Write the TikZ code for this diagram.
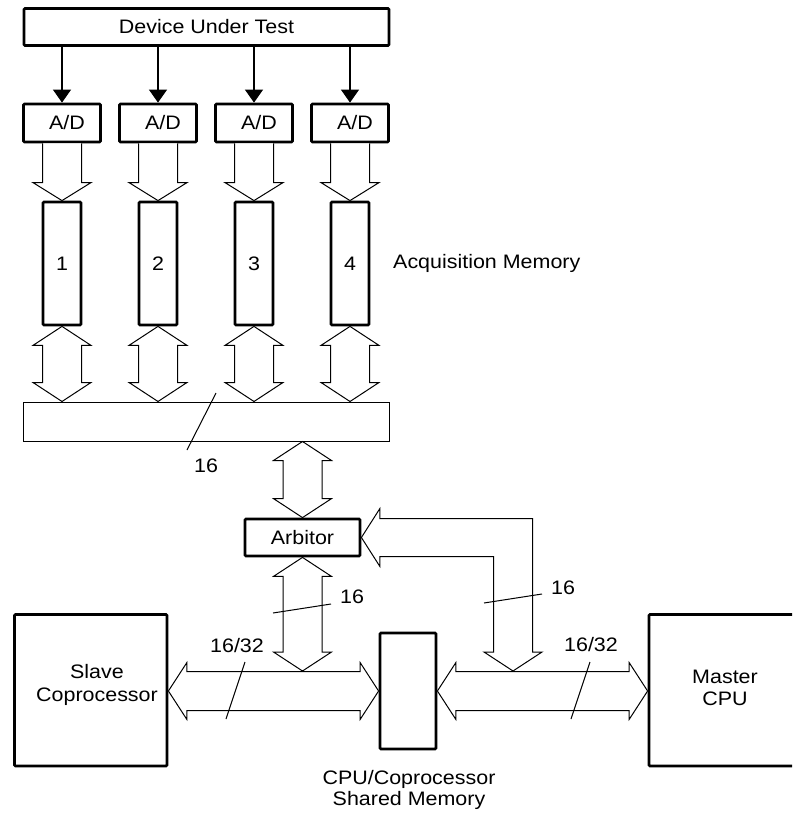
\documentclass[tikz,border=0pt]{standalone}
\usepackage{fontspec}
\setmainfont{Liberation Sans}[FakeStretch=1.1]
\usetikzlibrary{arrows.meta,calc}
\newcommand\vdbus[2]{%
  \draw[busline] let \p1=(#1), \p2=(#2) in
    (\x1,\y1) -- (\x1+29pt,\y1-19pt) -- (\x1+19.5pt,\y1-19pt) -- (\x1+19.5pt,\y2+19pt)
    -- (\x1+29pt,\y2+19pt) -- (\x1,\y2) -- (\x1-29pt,\y2+19pt) -- (\x1-19.5pt,\y2+19pt)
    -- (\x1-19.5pt,\y1-19pt) -- (\x1-29pt,\y1-19pt) -- cycle;}
\newcommand\vsbus[2]{%
  \draw[busline] let \p1=(#1), \p2=(#2) in
    (\x1-19.5pt,\y1) -- (\x1-19.5pt,\y2+18pt) -- (\x1-29pt,\y2+18pt) -- (\x1,\y2)
    -- (\x1+29pt,\y2+18pt) -- (\x1+19.5pt,\y2+18pt) -- (\x1+19.5pt,\y1);}
\newcommand\hdbus[2]{%
  \draw[busline] let \p1=(#1), \p2=(#2) in
    (\x1,\y1) -- (\x1+18.5pt,\y1+28.5pt) -- (\x1+18.5pt,\y1+19.5pt) -- (\x2-18.5pt,\y1+19.5pt)
    -- (\x2-18.5pt,\y1+28.5pt) -- (\x2,\y1) -- (\x2-18.5pt,\y1-28.5pt) -- (\x2-18.5pt,\y1-19.5pt)
    -- (\x1+18.5pt,\y1-19.5pt) -- (\x1+18.5pt,\y1-28.5pt) -- cycle;}
\tikzset{
  thickbox/.style={draw=black, line width=2.8pt, fill=white, inner sep=0pt, rounded corners=1pt},
  thinbox/.style={draw=black, line width=1pt, fill=white, inner sep=0pt},
  busline/.style={draw=black, line width=1pt, fill=white, line join=miter},
  sig/.style={line width=1.2pt, -{Triangle[width=18pt,length=13pt]}},
  tick/.style={line width=1pt},
  lbl/.style={inner sep=0pt, align=center},
}
\begin{document}
\begin{tikzpicture}[x=1pt,y=-1pt,font=\fontsize{19.5}{23}\selectfont]
\clip (0,0) rectangle (792,813);
\useasboundingbox (0,0) rectangle (792,813);
% top
\node[thickbox, minimum width=365pt, minimum height=37pt] (dut) at (206.5,27) {Device Under Test};
\foreach \i/\x in {1/62,2/158,3/254,4/350}{
  \node[thickbox, minimum width=77pt, minimum height=38pt] (ad\i) at (\x,123) {\hspace*{10pt}A/D};
  \node[thickbox, minimum width=38pt, minimum height=123pt] (mem\i) at (\x,263.5) {\i};
}
\node[thinbox, minimum width=366pt, minimum height=39pt] (bus) at (206,421.5) {};
\node[thickbox, minimum width=115pt, minimum height=37pt] (arb) at (302.5,537.5) {Arbitor};
\node[thickbox, minimum width=152.5pt, minimum height=151.5pt] (slave) at (90.75,690.25) {};
\node[thickbox, minimum width=56pt, minimum height=116pt] (shm) at (408,691) {};
\node[thickbox, minimum width=153pt, minimum height=151.5pt] (master) at (725.5,690.25) {};
\node[lbl, font=\fontsize{19.5}{23}\selectfont] (slavetxt) at (97,685) {Slave\\Coprocessor};
\node[lbl, font=\fontsize{19.5}{22}\selectfont] (mastertxt) at (725,688) {Master\\CPU};
\node[lbl, font=\fontsize{19.5}{21}\selectfont] (shmtxt) at (409,790) {CPU/Coprocessor\\Shared Memory};
\node[lbl, anchor=west] (acq) at (393,263) {Acquisition Memory};
% signal arrows
\foreach \i in {1,2,3,4}{
  \draw[sig] (dut.south -| ad\i.north) -- (ad\i.north);
  \vsbus{ad\i.south}{mem\i.north}
  \vdbus{mem\i.south}{bus.north -| mem\i.south}
}
\vdbus{bus.south -| arb.north}{arb.north}
% lower buses
\hdbus{slave.east |- shm.west}{shm.west}
\hdbus{shm.east}{master.west |- shm.east}
\coordinate (ltop) at (302.5,671);
\coordinate (rtop) at (513,671);
\vdbus{arb.south}{ltop}
\draw[busline] let \p1=(arb.east), \p2=(rtop) in
  (\x1,\y1) -- (\x1+18.5pt,\y1+29pt) -- (\x1+18.5pt,\y1+19pt) -- (\x2+19.5pt,\y1+19pt)
  -- (\x2+19.5pt,\y2+19pt) -- (\x2+29pt,\y2+19pt) -- (\x2,\y2) -- (\x2-29pt,\y2+19pt)
  -- (\x2-19.5pt,\y2+19pt) -- (\x2-19.5pt,\y1-19pt) -- (\x1+18.5pt,\y1-19pt)
  -- (\x1+18.5pt,\y1-29pt) -- cycle;
% ticks and labels
\draw[tick] (216,393) -- (187,450);
\node[lbl] (l1) at (206,466) {16};
\draw[tick] (273,613) -- (331,604);
\node[lbl] (l2) at (352,597) {16};
\draw[tick] (484,603) -- (542,594);
\node[lbl] (l3) at (563,588) {16};
\draw[tick] (245,662) -- (226,719);
\node[lbl] (l4) at (237,646) {16/32};
\draw[tick] (590,662) -- (571,719);
\node[lbl] (l5) at (591,645) {16/32};
\end{tikzpicture}
\end{document}
